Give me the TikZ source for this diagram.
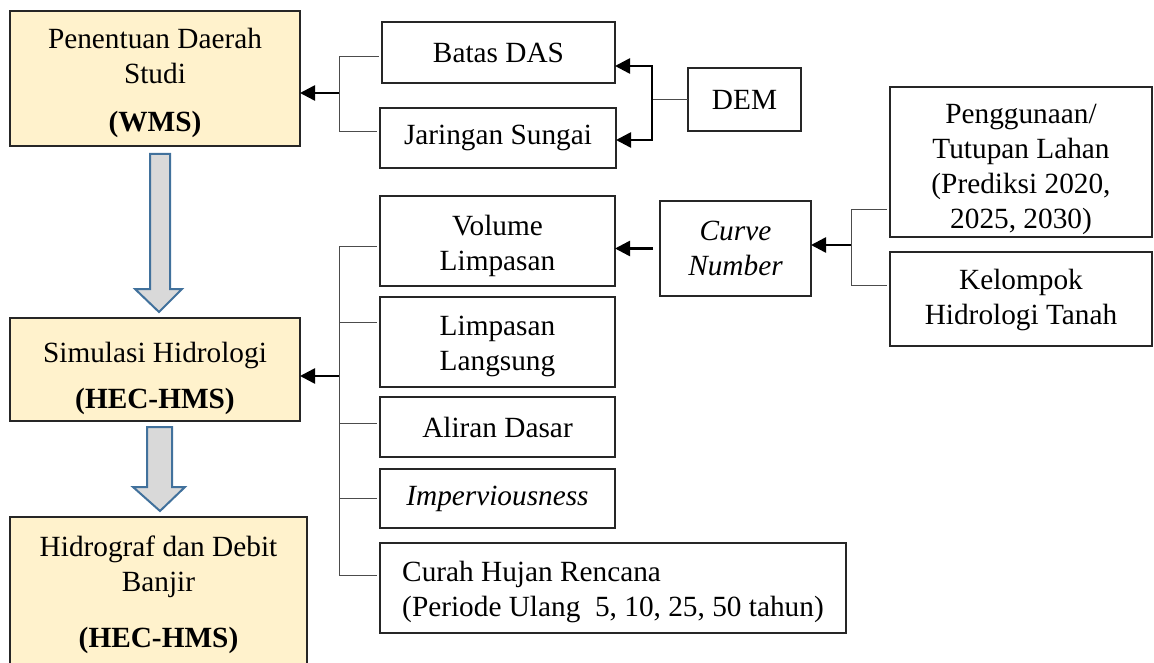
\documentclass[tikz,border=0pt]{standalone}
\usepackage{fontspec}
\setmainfont{Liberation Serif}
\usepackage{xcolor}
\usepackage{tikz}
\usetikzlibrary{arrows.meta,positioning,calc}
\definecolor{sand}{HTML}{FFF2CC}
\definecolor{steel}{HTML}{41719C}
\newcommand{\toppad}[1]{\rule{0pt}{#1pt}}

\begin{document}
\begin{tikzpicture}[x=1pt, y=-1pt,
  font=\fontsize{29.3}{35}\selectfont,
  box/.style={draw=black!85, line width=1.4pt, align=center, inner sep=0pt,
    outer sep=0pt, fill=white},
  stage/.style={box, fill=sand, minimum width=290pt},
  brk/.style={line width=1pt, draw=black!70, shorten >=3pt},
  ar/.style={-{Triangle[length=15pt,width=15pt]}, line width=2.6pt},
  blk/.style={draw=steel, fill=black!15, line width=2pt}]
  \useasboundingbox (0,0) rectangle (1154,663);
  % left column
  \node[stage, minimum height=135pt] (study) at (155,78.5) {\toppad{30}Penentuan Daerah\\Studi\\[13pt]\textbf{(WMS)}};
  \node[stage, minimum height=103pt] (sim) at (155,369.5) {\toppad{38}Simulasi Hidrologi\\[11pt]\textbf{(HEC-HMS)}};
  \node[stage, minimum width=297pt, minimum height=151pt] (hyd) at (158.5,592.5) {\toppad{26}Hidrograf dan Debit\\Banjir\\[21pt]\textbf{(HEC-HMS)}};
  % inputs of the study area
  \node[box, minimum width=233pt, minimum height=61pt] (batas) at (498.5,52.5) {Batas DAS};
  \node[box, minimum width=236pt, minimum height=60pt] (jar) at (498,138) {Jaringan Sungai};
  \node[box, minimum width=113pt, minimum height=63pt] (dem) at (744.5,99.5) {DEM};
  % inputs of the simulation
  \node[box, minimum width=235pt, minimum height=90pt] (vol) at (497.5,241) {\toppad{30}Volume\\Limpasan};
  \node[box, minimum width=235pt, minimum height=90pt, below=11pt of vol] (lang) {\toppad{29}Limpasan\\Langsung};
  \node[box, minimum width=235pt, minimum height=60pt, below=10pt of lang] (alir) {Aliran Dasar};
  \node[box, minimum width=235pt, minimum height=59pt, below=12pt of alir] (imp) {\textit{Imperviousness}};
  \node[box, minimum width=466pt, minimum height=90pt, align=left,
    below=15pt of imp.south west, anchor=north west] (rain) {\toppad{29}Curah Hujan Rencana\\(Periode Ulang\ \ 5, 10, 25, 50 tahun)};
  \node[box, minimum width=151pt, minimum height=95pt] (cn) at (735.5,248.5) {\textit{Curve}\\\textit{Number}};
  \node[box, minimum width=262pt, minimum height=150pt] (land) at (1021,162) {\toppad{34}Penggunaan/\\Tutupan Lahan\\(Prediksi 2020,\\2025, 2030)};
  \node[box, minimum width=262pt, minimum height=94pt] (soil) at (1021,299) {\toppad{23}Kelompok\\Hidrologi Tanah};
  % brackets
  \coordinate (tm) at (339,93);
  \coordinate (dm) at (652,101);
  \coordinate (mm) at (339,376);
  \coordinate (rm) at (851,245);
  \foreach \n/\dy in {batas/4.5,jar/-6}
    \draw[brk] (tm) |- ($(\n.west)+(0,\dy)$);
  \foreach \n/\dy in {vol/6,lang/-20,alir/-4,imp/0,rain/-13}
    \draw[brk] (mm) |- ($(\n.west)+(0,\dy)$);
  \foreach \n/\dy in {land/48,soil/-14}
    \draw[brk] (rm) |- ($(\n.west)+(0,\dy)$);
  \draw[brk, shorten >=0pt] (dem.west) -- (dem.west -| dm);
  % arrows
  \draw[ar] (tm) -- (tm -| study.east);
  \draw[ar] (mm) -- (mm -| sim.east);
  \draw[ar] (dem.west -| dm) |- ($(batas.south east)+(0,-17)$);
  \draw[ar] (dem.west -| dm) |- ($(jar.east)+(0,2)$);
  \draw[ar, shorten <=7pt] (cn.west) -- (cn.west -| vol.east);
  \draw[ar] (rm) -- (rm -| cn.east);
  \draw[blk] ($(study.south)+(-5,8)$) -- ++(20,0) -- ($(sim.north)+(15,-29)$) -- ++(12,0)
    -- ($(sim.north)+(4,-6)$) -- ($(sim.north)+(-20,-29)$) -- ++(15,0) -- cycle;
  \draw[blk] ($(sim.south)+(-8,6)$) -- ++(25,0) -- ($(hyd.north)+(13.5,-30)$) -- ++(13,0)
    -- ($(hyd.north)+(1.5,-6)$) -- ($(hyd.north)+(-25.5,-30)$) -- ++(14,0) -- cycle;
\end{tikzpicture}
\end{document}
